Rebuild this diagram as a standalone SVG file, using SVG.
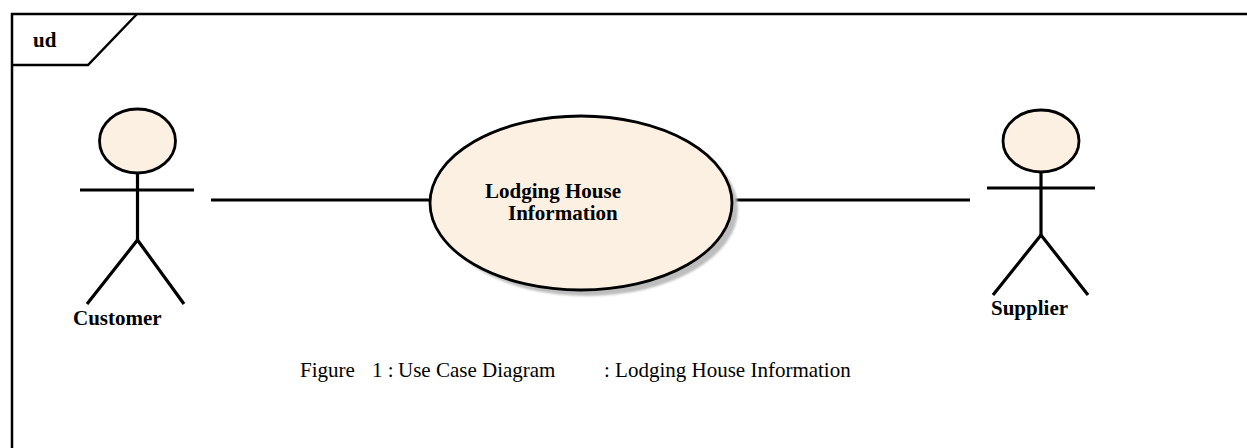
<svg xmlns="http://www.w3.org/2000/svg" width="1247" height="448" viewBox="0 0 1247 448">
  <style>
    .frame { fill: none; stroke: #000; stroke-width: 2.5; }
    .line { fill: none; stroke: #000; stroke-width: 3.2; stroke-linecap: butt; }
    .fill { fill: #FBF0E2; stroke: #000; stroke-width: 2.8; }
    .bold { font-family: "Liberation Serif", "Times New Roman", serif; font-weight: bold; font-size: 21px; fill: #000; }
    .cap { font-family: "Liberation Serif", "Times New Roman", serif; font-size: 21px; fill: #000; }
  </style>
  <defs>
    <filter id="blur" x="-10%" y="-10%" width="120%" height="120%">
      <feGaussianBlur stdDeviation="1.2"/>
    </filter>
  </defs>
  <rect width="1247" height="448" fill="#fff"/>
  <g id="frame">
    <path class="frame" d="M12,460 V14 H1260"/>
    <path class="frame" d="M12,65 H88 L137,14"/>
    <text class="bold" x="33" y="47" font-size="20">ud</text>
  </g>
  <g id="connectors">
    <line class="line" x1="211" y1="200" x2="430" y2="200"/>
    <line class="line" x1="732" y1="200" x2="970" y2="200"/>
  </g>
  <g id="customer">
    <ellipse class="fill" cx="137.5" cy="141" rx="38" ry="32"/>
    <line class="line" x1="137.5" y1="173" x2="137.5" y2="240"/>
    <line class="line" x1="80" y1="190" x2="194" y2="190"/>
    <polyline class="line" points="87,304 137.5,240 184,304"/>
    <text class="bold" x="73" y="325">Customer</text>
  </g>
  <g id="usecase">
    <ellipse cx="587" cy="209" rx="151" ry="87" fill="#bdbdbd" filter="url(#blur)"/>
    <ellipse class="fill" cx="581" cy="203" rx="151" ry="87"/>
    <text class="bold" x="485" y="198">Lodging House</text>
    <text class="bold" x="508" y="220">Information</text>
  </g>
  <g id="supplier">
    <ellipse class="fill" cx="1041" cy="141" rx="38" ry="31"/>
    <line class="line" x1="1041" y1="172" x2="1041" y2="235"/>
    <line class="line" x1="987" y1="188" x2="1095" y2="188"/>
    <polyline class="line" points="993,295 1041,235 1088,295"/>
    <text class="bold" x="991" y="315">Supplier</text>
  </g>
  <g id="caption">
    <text class="cap" x="300" y="377">Figure</text>
    <text class="cap" x="372" y="377">1 :</text>
    <text class="cap" x="398" y="377">Use Case Diagram</text>
    <text class="cap" x="604" y="377">: Lodging House Information</text>
  </g>
</svg>
